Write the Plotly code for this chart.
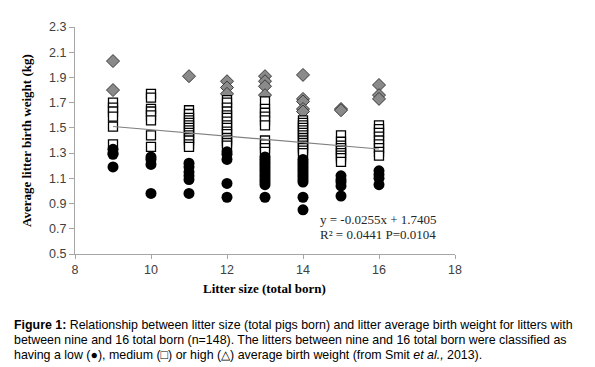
import plotly.graph_objects as go

# ---- data ----
litter_sizes = [9, 10, 11, 12, 13, 14, 15, 16]

low_weights = {
    9: [1.33, 1.30, 1.29, 1.19],
    10: [1.27, 1.25, 1.21, 0.98],
    11: [1.22, 1.19, 1.15, 1.12, 1.09, 0.98],
    12: [1.31, 1.29, 1.25, 1.06, 0.95],
    13: [1.27, 1.25, 1.23, 1.21, 1.19, 1.17, 1.15, 1.13, 1.11, 1.09, 1.07, 1.05, 0.95],
    14: [1.25, 1.23, 1.21, 1.19, 1.17, 1.15, 1.13, 1.11, 1.09, 1.07, 0.95, 0.85],
    15: [1.12, 1.09, 1.07, 1.04, 0.96],
    16: [1.16, 1.13, 1.10, 1.05],
}
medium_weights = {
    9: [1.70, 1.66, 1.63, 1.59, 1.51, 1.37],
    10: [1.77, 1.74, 1.65, 1.63, 1.60, 1.56, 1.44, 1.35],
    11: [1.64, 1.61, 1.58, 1.56, 1.54, 1.52, 1.50, 1.48, 1.46, 1.44, 1.42, 1.40, 1.37, 1.35],
    12: [1.72, 1.70, 1.66, 1.63, 1.60, 1.58, 1.55, 1.52, 1.50, 1.47, 1.45, 1.42, 1.40, 1.38, 1.36],
    13: [1.71, 1.65, 1.62, 1.59, 1.56, 1.52, 1.40, 1.37, 1.34, 1.31],
    14: [1.56, 1.54, 1.52, 1.50, 1.48, 1.46, 1.44, 1.42, 1.40, 1.38, 1.36, 1.34, 1.32, 1.30],
    15: [1.44, 1.39, 1.36, 1.34, 1.32, 1.30, 1.28, 1.26, 1.23],
    16: [1.52, 1.49, 1.46, 1.43, 1.40, 1.37, 1.34, 1.31, 1.28],
}
high_weights = {
    9: [2.03, 1.80],
    10: [],
    11: [1.91],
    12: [1.87, 1.82, 1.77],
    13: [1.91, 1.87, 1.83, 1.76],
    14: [1.92, 1.73, 1.71, 1.65, 1.63],
    15: [1.65, 1.64],
    16: [1.84, 1.76, 1.73],
}

slope = -0.0255
intercept = 1.7405
trend_x = [9, 16]

x_ticks = [8, 10, 12, 14, 16, 18]
y_ticks = [0.5, 0.7, 0.9, 1.1, 1.3, 1.5, 1.7, 1.9, 2.1, 2.3]

equation_lines = ["y = -0.0255x + 1.7405", "R² = 0.0441 P=0.0104"]
caption_lines = [
    "<b>Figure 1:</b> Relationship between litter size (total pigs born) and litter average birth weight for litters with",
    "between nine and 16 total born (n=148). The litters between nine and 16 total born were classified as",
    "having a low (●), medium (□) or high (△) average birth weight (from Smit <i>et al.,</i> 2013).",
]


def flatten(d):
    xs, ys = [], []
    for k in litter_sizes:
        for v in d[k]:
            xs.append(k)
            ys.append(v)
    return xs, ys


fig = go.Figure()

hx, hy = flatten(high_weights)
fig.add_trace(go.Scatter(x=hx, y=hy, mode="markers",
                         marker=dict(symbol="diamond", size=10, color="#8a8a8a",
                                     line=dict(color="#3a3a3a", width=1))))
mx, my = flatten(medium_weights)
fig.add_trace(go.Scatter(x=mx, y=my, mode="markers",
                         marker=dict(symbol="square", size=9, color="white",
                                     line=dict(color="black", width=1.3))))
lx, ly = flatten(low_weights)
fig.add_trace(go.Scatter(x=lx, y=ly, mode="markers",
                         marker=dict(symbol="circle", size=11, color="black",
                                     line=dict(width=0))))
fig.add_trace(go.Scatter(x=trend_x, y=[slope * t + intercept for t in trend_x],
                         mode="lines", line=dict(color="#808080", width=1.2)))

W, H = 595, 367
L, R, T, B = 67, 148, 15, 121
pw, ph = W - L - R, H - T - B


def px_x(p):
    return (p - L) / pw


def px_y(p):
    return (H - B - p) / ph


fig.update_layout(
    width=W, height=H,
    margin=dict(l=L, r=R, t=T, b=B),
    paper_bgcolor="white", plot_bgcolor="white",
    showlegend=False,
    xaxis=dict(range=[8, 18], tickvals=x_ticks, showgrid=False, zeroline=False,
               showline=True, linecolor="#a6a6a6", linewidth=1,
               ticks="outside", ticklen=4, tickcolor="#a6a6a6",
               tickfont=dict(family="Liberation Sans", size=12.5, color="#404040")),
    yaxis=dict(range=[0.5, 2.3], tickvals=y_ticks, ticktext=[f"{v:.1f}" for v in y_ticks],
               showgrid=False, zeroline=False,
               showline=True, linecolor="#a6a6a6", linewidth=1,
               ticks="outside", ticklen=5, tickcolor="#a6a6a6",
               tickfont=dict(family="Liberation Sans", size=12.5, color="#404040")),
)

ann = []
ann.append(dict(text="<b>Litter size (total born)</b>", xref="paper", yref="paper",
                x=px_x(256), y=px_y(281), xanchor="center", yanchor="middle", showarrow=False,
                font=dict(family="Liberation Serif", size=13, color="black")))
ann.append(dict(text="<b>Average litter birth weight (kg)</b>", xref="paper", yref="paper",
                x=px_x(19), y=px_y(131), xanchor="center", yanchor="middle", showarrow=False,
                textangle=-90,
                font=dict(family="Liberation Serif", size=13, color="black")))
for i, line in enumerate(equation_lines):
    ann.append(dict(text=line, xref="paper", yref="paper",
                    x=px_x(310), y=px_y(211 + 15 * i), xanchor="left", yanchor="middle",
                    showarrow=False,
                    font=dict(family="Liberation Serif", size=13, color="#262626")))
for i, line in enumerate(caption_lines):
    ann.append(dict(text=line, xref="paper", yref="paper",
                    x=px_x(4), y=px_y(318 + 15.5 * i), xanchor="left", yanchor="middle",
                    showarrow=False,
                    font=dict(family="Liberation Sans", size=12.4, color="black")))
fig.update_layout(annotations=ann)

fig.write_html("out.html")
